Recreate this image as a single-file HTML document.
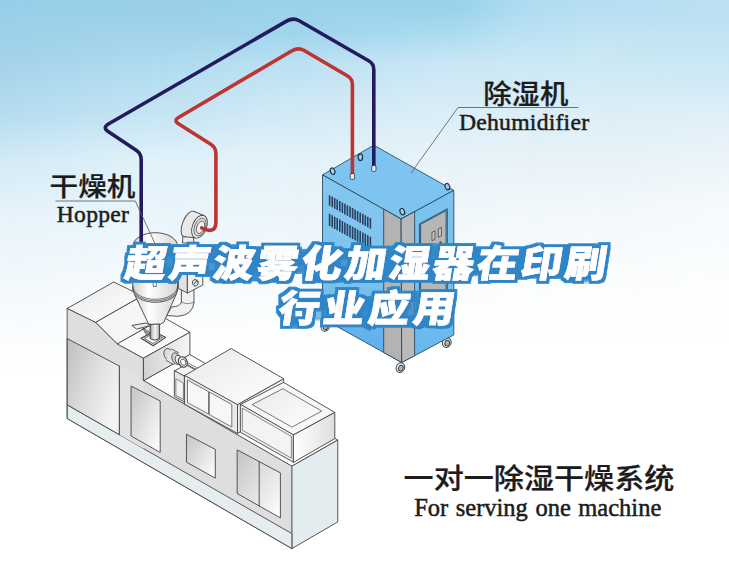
<!DOCTYPE html>
<html lang="zh">
<head>
<meta charset="utf-8">
<title>超声波雾化加湿器在印刷行业应用</title>
<style>
html,body{margin:0;padding:0;background:#fff;}
body{width:729px;height:561px;overflow:hidden;position:relative;font-family:"Liberation Sans","Noto Sans CJK SC",sans-serif;}
svg{position:absolute;left:0;top:0;display:block;}
.cn{font-family:"Liberation Sans","Noto Sans CJK SC",sans-serif;font-weight:500;fill:#1c1c1c;stroke:#1c1c1c;stroke-width:0.25px;}
.en{font-family:"Liberation Serif","Noto Serif CJK SC",serif;fill:#1c1c1c;stroke:#1c1c1c;stroke-width:0.5px;}
.ttl{font-family:"Liberation Sans","Noto Sans CJK SC",sans-serif;font-weight:900;fill:#fff;stroke:#fff;stroke-width:0.6px;stroke-linejoin:miter;}
.ln{stroke:#555;stroke-width:0.8;fill:none;stroke-linejoin:round;}
</style>
</head>
<body>
<svg width="729" height="561" viewBox="0 0 729 561">
<defs>
<linearGradient id="dl" x1="0" y1="0" x2="0" y2="1">
<stop offset="0" stop-color="#84c7f0"/>
<stop offset="0.55" stop-color="#7dc2ef"/>
<stop offset="0.8" stop-color="#66b4ed"/>
<stop offset="1" stop-color="#5cadec"/>
</linearGradient>
<linearGradient id="dr" x1="0" y1="0" x2="0" y2="1">
<stop offset="0" stop-color="#7bc4f0"/>
<stop offset="0.6" stop-color="#76c0ef"/>
<stop offset="1" stop-color="#66b5ed"/>
</linearGradient>
<linearGradient id="pg" x1="0" y1="0" x2="1" y2="1">
<stop offset="0" stop-color="#c4c4c4"/>
<stop offset="0.55" stop-color="#e4e4e4"/>
<stop offset="1" stop-color="#ffffff"/>
</linearGradient>
<linearGradient id="pgd" x1="0" y1="0" x2="1" y2="0.6">
<stop offset="0" stop-color="#bebebe"/>
<stop offset="0.5" stop-color="#dcdcdc"/>
<stop offset="1" stop-color="#f4f4f4"/>
</linearGradient>
<linearGradient id="topg" x1="0" y1="0" x2="1" y2="1">
<stop offset="0" stop-color="#e9e9e9"/>
<stop offset="1" stop-color="#ffffff"/>
</linearGradient>
<linearGradient id="cyl" x1="0" y1="0" x2="1" y2="0">
<stop offset="0" stop-color="#cfcfcf"/>
<stop offset="0.35" stop-color="#ffffff"/>
<stop offset="1" stop-color="#d4d4d4"/>
</linearGradient>
<linearGradient id="neck" x1="0" y1="0" x2="1" y2="0">
<stop offset="0" stop-color="#8c8c8c"/>
<stop offset="0.3" stop-color="#d8d8d8"/>
<stop offset="0.6" stop-color="#f4f4f4"/>
<stop offset="1" stop-color="#9a9a9a"/>
</linearGradient>
<linearGradient id="blockr" x1="0" y1="0" x2="1" y2="0">
<stop offset="0" stop-color="#d2d2d2"/>
<stop offset="1" stop-color="#f6f6f6"/>
</linearGradient>
<linearGradient id="rboxr" x1="0" y1="0" x2="1" y2="0">
<stop offset="0" stop-color="#ffffff"/>
<stop offset="1" stop-color="#dedede"/>
</linearGradient>
<filter id="ol" filterUnits="userSpaceOnUse" x="100" y="230" width="530" height="110">
<feMorphology in="SourceAlpha" operator="dilate" radius="5" result="d0"/><feMorphology in="d0" operator="erode" radius="2" result="d"/>
<feFlood flood-color="#2e86c8"/><feComposite in2="d" operator="in" result="o"/>
<feMerge><feMergeNode in="o"/><feMergeNode in="SourceGraphic"/></feMerge>
</filter>
<linearGradient id="c0" x1="0" y1="0" x2="0" y2="1"><stop offset="0.0000" stop-color="#97cee9"/><stop offset="0.0267" stop-color="#9ad0ea"/><stop offset="0.1016" stop-color="#a3d2e9"/><stop offset="0.2050" stop-color="#b5ddf1"/><stop offset="0.2852" stop-color="#d3eaf6"/><stop offset="0.3832" stop-color="#e7f4fb"/><stop offset="0.5348" stop-color="#f6fafc"/><stop offset="0.6595" stop-color="#ffffff"/><stop offset="1.0000" stop-color="#ffffff"/></linearGradient>
<linearGradient id="c1" x1="0" y1="0" x2="0" y2="1"><stop offset="0.0000" stop-color="#99cee8"/><stop offset="0.0214" stop-color="#9bcfe8"/><stop offset="0.1194" stop-color="#afdcf0"/><stop offset="0.1961" stop-color="#c4e4f3"/><stop offset="0.2799" stop-color="#dff1f9"/><stop offset="0.3832" stop-color="#e9f5fb"/><stop offset="0.5348" stop-color="#f8fbfd"/><stop offset="0.6417" stop-color="#ffffff"/><stop offset="1.0000" stop-color="#ffffff"/></linearGradient>
<linearGradient id="m1" gradientUnits="userSpaceOnUse" x1="0" y1="0" x2="160" y2="0"><stop offset="0" stop-color="#000"/><stop offset="1" stop-color="#fff"/></linearGradient>
<mask id="k1" maskUnits="userSpaceOnUse" x="0" y="0" width="729" height="561"><rect width="729" height="561" fill="url(#m1)"/></mask>
<linearGradient id="c2" x1="0" y1="0" x2="0" y2="1"><stop offset="0.0000" stop-color="#9bd1eb"/><stop offset="0.0606" stop-color="#a0d5ee"/><stop offset="0.1105" stop-color="#bae0f2"/><stop offset="0.1818" stop-color="#cee8f5"/><stop offset="0.2799" stop-color="#e3f2f9"/><stop offset="0.3779" stop-color="#ebf5fa"/><stop offset="0.5348" stop-color="#fafcfd"/><stop offset="0.6239" stop-color="#ffffff"/><stop offset="1.0000" stop-color="#ffffff"/></linearGradient>
<linearGradient id="m2" gradientUnits="userSpaceOnUse" x1="160" y1="0" x2="290" y2="0"><stop offset="0" stop-color="#000"/><stop offset="1" stop-color="#fff"/></linearGradient>
<mask id="k2" maskUnits="userSpaceOnUse" x="0" y="0" width="729" height="561"><rect width="729" height="561" fill="url(#m2)"/></mask>
<linearGradient id="c3" x1="0" y1="0" x2="0" y2="1"><stop offset="0.0000" stop-color="#98d2eb"/><stop offset="0.0178" stop-color="#9ad3ec"/><stop offset="0.0570" stop-color="#aadbef"/><stop offset="0.1105" stop-color="#c8e6f5"/><stop offset="0.1907" stop-color="#d9edf7"/><stop offset="0.2852" stop-color="#e7f3f9"/><stop offset="0.3779" stop-color="#f0f7fb"/><stop offset="0.5348" stop-color="#fcfdfe"/><stop offset="0.6061" stop-color="#ffffff"/><stop offset="1.0000" stop-color="#ffffff"/></linearGradient>
<linearGradient id="m3" gradientUnits="userSpaceOnUse" x1="290" y1="0" x2="450" y2="0"><stop offset="0" stop-color="#000"/><stop offset="1" stop-color="#fff"/></linearGradient>
<mask id="k3" maskUnits="userSpaceOnUse" x="0" y="0" width="729" height="561"><rect width="729" height="561" fill="url(#m3)"/></mask>
<linearGradient id="c4" x1="0" y1="0" x2="0" y2="1"><stop offset="0.0000" stop-color="#aedcf1"/><stop offset="0.0214" stop-color="#b0ddf2"/><stop offset="0.1070" stop-color="#cae7f5"/><stop offset="0.1961" stop-color="#dbeef7"/><stop offset="0.2941" stop-color="#e9f3f8"/><stop offset="0.3779" stop-color="#f2f8fb"/><stop offset="0.5348" stop-color="#fdfefe"/><stop offset="0.6061" stop-color="#ffffff"/><stop offset="1.0000" stop-color="#ffffff"/></linearGradient>
<linearGradient id="m4" gradientUnits="userSpaceOnUse" x1="450" y1="0" x2="525" y2="0"><stop offset="0" stop-color="#000"/><stop offset="1" stop-color="#fff"/></linearGradient>
<mask id="k4" maskUnits="userSpaceOnUse" x="0" y="0" width="729" height="561"><rect width="729" height="561" fill="url(#m4)"/></mask>
<linearGradient id="c5" x1="0" y1="0" x2="0" y2="1"><stop offset="0.0000" stop-color="#b6def2"/><stop offset="0.0178" stop-color="#b8dff2"/><stop offset="0.1016" stop-color="#cbe8f4"/><stop offset="0.1961" stop-color="#dceef7"/><stop offset="0.2977" stop-color="#eaf3f8"/><stop offset="0.3779" stop-color="#f3f8fb"/><stop offset="0.5348" stop-color="#fdfefe"/><stop offset="0.6061" stop-color="#ffffff"/><stop offset="1.0000" stop-color="#ffffff"/></linearGradient>
<linearGradient id="m5" gradientUnits="userSpaceOnUse" x1="525" y1="0" x2="600" y2="0"><stop offset="0" stop-color="#000"/><stop offset="1" stop-color="#fff"/></linearGradient>
<mask id="k5" maskUnits="userSpaceOnUse" x="0" y="0" width="729" height="561"><rect width="729" height="561" fill="url(#m5)"/></mask>
<linearGradient id="c6" x1="0" y1="0" x2="0" y2="1"><stop offset="0.0000" stop-color="#bce0f3"/><stop offset="0.0267" stop-color="#bde0f3"/><stop offset="0.1105" stop-color="#c8e7f4"/><stop offset="0.2050" stop-color="#ddeff8"/><stop offset="0.2852" stop-color="#ecf4f9"/><stop offset="0.3690" stop-color="#f5fafc"/><stop offset="0.5348" stop-color="#fefeff"/><stop offset="0.6061" stop-color="#ffffff"/><stop offset="1.0000" stop-color="#ffffff"/></linearGradient>
<linearGradient id="m6" gradientUnits="userSpaceOnUse" x1="600" y1="0" x2="729" y2="0"><stop offset="0" stop-color="#000"/><stop offset="1" stop-color="#fff"/></linearGradient>
<mask id="k6" maskUnits="userSpaceOnUse" x="0" y="0" width="729" height="561"><rect width="729" height="561" fill="url(#m6)"/></mask>
</defs>
<g id="bg">
<rect width="729" height="561" fill="url(#c0)"/>
<rect width="729" height="561" fill="url(#c1)" mask="url(#k1)"/>
<rect width="729" height="561" fill="url(#c2)" mask="url(#k2)"/>
<rect width="729" height="561" fill="url(#c3)" mask="url(#k3)"/>
<rect width="729" height="561" fill="url(#c4)" mask="url(#k4)"/>
<rect width="729" height="561" fill="url(#c5)" mask="url(#k5)"/>
<rect width="729" height="561" fill="url(#c6)" mask="url(#k6)"/>
</g>
<g id="machine" stroke="#444" stroke-width="0.9" stroke-linejoin="round" stroke-linecap="round">
<polygon points="143.7,380.6 189.6,354.4 337.8,440 291.9,466.2" fill="#fbfbfb"/>
<polygon points="291.9,466.2 337.8,440 337.8,521.9 291.9,548.6" fill="#e3ecee"/>
<path d="M67.500 308.300 L91 319.700 Q96.500 322.300 100.500 326.500 L112.500 339 Q116 342.500 120.500 345 L143.700 358 V380.600 L291.900 466.200 V548.600 L67.500 418.700 Z" fill="#dedede"/>
<polygon points="67.5,405 291.9,533.6 291.9,548.6 67.5,418.7" fill="#e5edef"/>
<polygon points="67.5,338.7 119.4,366.1 119.4,434.7 67.5,405" fill="url(#pgd)"/>
<polygon points="119.4,366.1 143.7,380.6 143.7,448.7 119.4,434.7" fill="#e2e2e2" stroke="none"/>
<path d="M119.400 366.100 V434.700" fill="none"/>
<polygon points="131.4,386.2 160.2,401 160.2,452.4 131.4,436.2" fill="url(#pg)"/>
<polygon points="186.8,434.4 215.3,449.4 215.3,478.1 186.8,462.4" fill="url(#pg)"/>
<polygon points="237.5,450 280.4,472.9 280.4,517.9 237.5,493.7" fill="url(#pg)"/>
<path d="M259.200 461.600 V506" fill="none"/>
<polygon points="67.5,308.3 113.7,282 142.2,295.9 96,322.2" fill="url(#topg)"/>
<polygon points="96,322.2 142.2,295.9 163.8,317.5 117.6,343.8" fill="#f6f6f6"/>
<polygon points="117.6,343.8 163.8,317.5 189.9,332.3 143.7,358" fill="#fafafa"/>
<polygon points="143.7,358 189.9,332.3 189.9,354.4 143.7,380.6" fill="url(#blockr)"/>
<polygon points="174.7,370.8 186.5,364.2 196.5,369.8 184.9,376.4" fill="#f4f4f4"/>
<polygon points="174.7,370.8 184.9,376.4 184.9,402.4 174.7,396.6" fill="#e6e6e6"/>
<polygon points="176.2,379 183.4,383 183.4,399.5 176.2,395.4" fill="#f3f3f3" stroke-width="0.6"/>
<g stroke-width="0.8">
<path d="M184.500 361 L196.500 367.600 M183.500 363.500 L195 369.800" stroke-width="0.7" fill="none"/>
<ellipse cx="168.800" cy="354.700" rx="4.500" ry="6.500" fill="#dcdcdc" transform="rotate(-25 168.800 354.700)"/>
<path d="M171.500 349 L178.500 352.700 L174 364.500 L166.300 360.600Z" fill="#e6e6e6" stroke="none"/>
<path d="M171.500 349 L178.500 352.700 M166.300 360.600 L174 364.500" fill="none"/>
<ellipse cx="176.200" cy="358.600" rx="4" ry="6.100" fill="#d4d4d4" transform="rotate(-25 176.200 358.600)"/>
<ellipse cx="178.800" cy="360" rx="3.300" ry="5" fill="#e9e9e9" transform="rotate(-25 178.800 360)"/>
<ellipse cx="182.900" cy="362" rx="4.300" ry="5.400" fill="#f2f2f2" stroke-width="1.100" transform="rotate(-25 182.900 362)"/>
<ellipse cx="183.300" cy="362.200" rx="2.500" ry="3.300" fill="#fff" transform="rotate(-25 183.300 362.200)"/>
</g>
<polygon points="237.5,404.6 283.6,378.7 283.6,408 237.5,433.4" fill="#ededed"/>
<polygon points="184.7,375.5 231.1,348.5 283.6,378.7 237.5,404.6" fill="url(#topg)"/>
<polygon points="184.7,375.5 237.5,404.6 237.5,433.4 184.7,404.3" fill="#e9e9e9"/>
<polygon points="187.8,380.2 208.6,391.7 208.6,414.2 187.8,402.7" fill="#f7f7f7" stroke-width="0.7"/>
<polygon points="209.6,392.2 231.8,404.5 231.8,427 209.6,414.7" fill="#f7f7f7" stroke-width="0.7"/>
<polygon points="240.7,404.4 283.6,382.4 334.8,412.4 293.6,434.9" fill="#f6f6f6"/>
<polygon points="252.4,404.4 282.9,388.7 321.8,411.1 292.3,426.9" fill="url(#topg)" stroke-width="0.7"/>
<polygon points="240.7,404.4 293.6,434.9 293.6,462.3 240.7,432.4" fill="#ececec"/>
<polygon points="242.7,408.4 291.4,436.5 291.4,458.2 242.7,430.4" fill="#f3f3f3" stroke-width="0.6"/>
<polygon points="293.6,434.9 334.8,412.4 334.8,438.6 293.6,462.3" fill="url(#rboxr)"/>
</g>
<g id="hopper" stroke="#444" stroke-width="0.9" stroke-linejoin="round" stroke-linecap="round">
<path d="M181.400 288 V302 Q180.500 306.500 171.800 306.900 L166.400 315.500 L178 316.300 Q193 315 194 302 V288 Z" fill="#f0f0f0"/>
<path d="M181.400 302 Q187.500 305.500 194 302" fill="none" stroke-width="0.6"/>
<path d="M134.300 294 L148.300 323.400 Q156 327.800 163.800 322.400 L176.300 294 Z" fill="url(#cyl)"/>
<path d="M132.800 246 A22.400 13.300 0 0 1 177.600 246 V289.500 A22.400 12.800 0 0 1 132.800 289.500 Z" fill="url(#cyl)"/>
<path d="M132.800 286.500 A22.400 12.800 0 0 0 177.600 286.500" fill="none" stroke-width="0.7"/>
<path d="M132.800 288 A22.400 12.800 0 0 0 177.600 288" fill="none" stroke-width="0.7"/>
<rect x="153.600" y="281" width="2.800" height="5.500" fill="#fff" stroke-width="0.7"/>
<polygon points="141.1,338.2 153.8,331.4 165.8,337.4 153.1,345.7" fill="#e4e4e4" stroke-width="1.1"/>
<polygon points="144.6,338.2 153.7,333.4 162.4,337.6 153.3,343.4" fill="#f6f6f6" stroke-width="0.7"/>
<path d="M150.100 324.800 V338.600 Q154.800 341.600 159.600 338.600 V324.300 Z" fill="url(#neck)" stroke-width="1"/>
<path d="M132.200 325.400 L145.900 323 L150.700 325.400 L137 329 Z" fill="#ececec" stroke-width="0.9"/>
<path d="M142.500 328.200 L147.200 336 L149.800 332.500 Z" fill="#9a9a9a" stroke-width="0.7"/>
<polygon points="178.7,264 187.6,268.3 187.6,293 178.7,288.7" fill="#e2e2e2"/>
<polygon points="187.6,268.3 202.8,260.3 202.8,285 187.6,293" fill="#f1f1f1"/>
<ellipse cx="195.300" cy="282.800" rx="2.900" ry="3.300" fill="#e4e4e4" stroke-width="0.9" transform="rotate(-20 195.300 282.800)"/>
<path d="M194.300 283.800 L197 280.300" fill="none" stroke-width="0.9"/>
<path d="M183 235 L182.500 243 H194 L193.500 237 Z" fill="#ededed"/>
<ellipse cx="188.800" cy="224" rx="6.200" ry="13.600" fill="#e9e9e9" transform="rotate(22 188.800 224)"/>
<path d="M193.900 211.400 L204.300 215.600 L195 237.800 L183.700 236.600 Z" fill="#e9e9e9" stroke="none"/>
<path d="M193.900 211.400 L204.300 215.600 M183.700 236.600 L195 237.800" fill="none"/>
<ellipse cx="199.500" cy="226.700" rx="7" ry="12" fill="#f3f3f3" transform="rotate(22 199.500 226.700)"/>
<ellipse cx="200" cy="227" rx="5.400" ry="9.400" fill="#dedede" stroke-width="0.7" transform="rotate(22 200 227)"/>
<ellipse cx="200.500" cy="227.300" rx="3.700" ry="6.500" fill="#f1f1f1" stroke-width="0.7" transform="rotate(22 200.500 227.300)"/>
</g>
<g id="dehum" stroke="#2b4a63" stroke-width="0.9" stroke-linejoin="round">
<g stroke="#3c3c3c" stroke-width="0.9"><ellipse cx="325.3" cy="326.3" rx="4.2" ry="5" fill="#eee" transform="rotate(25 325.3 326.3)"/><ellipse cx="325.9" cy="326.6" rx="2.3" ry="2.9" fill="#b5b5b5" transform="rotate(25 325.3 326.3)"/></g>
<g stroke="#3c3c3c" stroke-width="0.9"><ellipse cx="446.8" cy="342.6" rx="4.2" ry="5" fill="#eee" transform="rotate(25 446.8 342.6)"/><ellipse cx="447.4" cy="342.9" rx="2.3" ry="2.9" fill="#b5b5b5" transform="rotate(25 446.8 342.6)"/></g>
<polygon points="322.5,174.9 373.8,145.2 453.8,190.4 401.1,219" fill="#7dc4f0"/>
<polygon points="322.5,174.9 401.1,219 401.7,362.5 322.5,318.4" fill="url(#dl)"/>
<polygon points="401.1,219 453.8,190.4 453.8,334.9 401.7,362.5" fill="url(#dr)"/>
<polygon points="383.7,209.2 401.1,219 401.7,362.5 383.7,352.5" fill="#b3b3b3"/>
<polygon points="401.1,219 414.6,211.7 414.6,355.7 401.7,362.5" fill="#b9b9b9"/>
<polygon points="419.4,223.9 447.3,208.7 447.3,314.3 419.4,329.1" fill="#7bc3ef"/>
<polygon points="420.6,224.4 446.1,210.6 446.1,313.1 420.6,327.9" fill="#b6b6b6"/>
<polygon points="432,232.400 435,230.800 435,239.200 432,240.800" fill="#c9c9c9" stroke="#333" stroke-width="0.7"/>
<polygon points="438.300,229 441.400,227.300 441.400,235.700 438.300,237.400" fill="#c9c9c9" stroke="#333" stroke-width="0.7"/>
<circle cx="440.500" cy="242.300" r="1.1" fill="#444" stroke="none"/>
<path d="M329.6 195.2v10.6M332.2 196.6v10.6M334.7 198.1v10.6M337.2 199.5v10.6M339.8 200.9v10.6M342.4 202.4v10.6M344.9 203.8v10.6M347.4 205.2v10.6M350.0 206.6v10.6M352.6 208.1v10.6M355.1 209.5v10.6M357.6 210.9v10.6M360.2 212.4v10.6M362.8 213.8v10.6M365.3 215.2v10.6M367.8 216.7v10.6M370.4 218.1v10.6" stroke="#27405f" stroke-width="1.6" fill="none"/>
<path d="M329.6 213.8v12.2M332.2 215.2v12.2M334.7 216.7v12.2M337.2 218.1v12.2M339.8 219.5v12.2M342.4 221.0v12.2M344.9 222.4v12.2M347.4 223.8v12.2M350.0 225.2v12.2M352.6 226.7v12.2M355.1 228.1v12.2M357.6 229.5v12.2M360.2 231.0v12.2M362.8 232.4v12.2M365.3 233.8v12.2M367.8 235.3v12.2M370.4 236.7v12.2" stroke="#27405f" stroke-width="1.6" fill="none"/>
<ellipse cx="332.6" cy="171.2" rx="2.2" ry="3.3" fill="#9fd2f3" stroke="#26364a" stroke-width="1.25" transform="rotate(-20 332.6 171.2)"/>
<ellipse cx="360.4" cy="157.2" rx="2.2" ry="3.3" fill="#9fd2f3" stroke="#26364a" stroke-width="1.25" transform="rotate(0 360.4 157.2)"/>
<ellipse cx="402.3" cy="211.6" rx="2.2" ry="3.3" fill="#9fd2f3" stroke="#26364a" stroke-width="1.25" transform="rotate(-20 402.3 211.6)"/>
<ellipse cx="447.4" cy="186.6" rx="2.2" ry="3.3" fill="#9fd2f3" stroke="#26364a" stroke-width="1.25" transform="rotate(-20 447.4 186.6)"/>
<path d="M364.600 324.200v4.200M366.300 325.100v4.200M368 326v4.200M369.700 326.900v4.200" stroke="#2c4a6e" stroke-width="0.9" fill="none"/>
<g stroke="#3c3c3c" stroke-width="0.9"><ellipse cx="400.4" cy="367.6" rx="4.2" ry="5" fill="#eee" transform="rotate(25 400.4 367.6)"/><ellipse cx="401" cy="367.9" rx="2.3" ry="2.9" fill="#b5b5b5" transform="rotate(25 400.4 367.6)"/></g>
</g>
<g id="pipes" fill="none" stroke-width="3.6" stroke-linejoin="round" stroke-linecap="round">
<path d="M141.200 245 V159.500 Q141.200 153.500 136.200 150.200 L108.100 131.400 Q102.300 127.500 108.400 124 L287 20.900 Q293.100 17.300 299.200 20.800 L368.600 60.800 Q373.800 63.700 373.800 69.700 V166" stroke="#231b5e"/>
<path d="M201.800 227.900 Q205 230.400 209.500 230.400 Q215.900 230.400 215.900 222.500 V153.500 Q215.900 147.500 210.800 144.300 L178.800 124.100 Q173.200 120.600 178.900 117.200 L292 50.700 Q298.100 47.100 304.200 50.500 L347.200 75.800 Q352.400 78.700 352.400 84.700 V174" stroke="#bf3432"/>
<rect x="350.200" y="173.500" width="4.400" height="6" rx="1.500" fill="#dfeefa" stroke="#333" stroke-width="0.8"/>
<rect x="371.600" y="165.500" width="4.400" height="6" rx="1.500" fill="#dfeefa" stroke="#333" stroke-width="0.8"/>
</g>
<g id="labels">
<text class="cn" transform="translate(49.6 195.9) scale(1 0.93)" font-size="28.6" letter-spacing="0">干燥机</text>
<text class="en" x="56.800" y="222.400" font-size="23.600" letter-spacing="0.25">Hopper</text>
<path class="ln" d="M55.500 201 H135.300 L155.200 244"/>
<text class="cn" transform="translate(483.2 103.8) scale(1 0.95)" font-size="28.4" letter-spacing="0">除湿机</text>
<text class="en" x="459" y="129.500" font-size="23.700" letter-spacing="0.22">Dehumidifier</text>
<path class="ln" d="M578.500 107.500 H458 L411 173"/>
<text class="cn" transform="translate(403.6 489.4) scale(1 0.95)" font-size="30.1" letter-spacing="0">一对一除湿干燥系统</text>
<text class="en" x="414.200" y="516.200" font-size="24.500" word-spacing="1.400">For serving one machine</text>
</g>
<g id="title">
<g filter="url(#ol)"><text class="ttl" transform="translate(365.300 277.100) skewX(-9) scale(1.1 1)" text-anchor="middle" font-size="37.500" letter-spacing="2.500">超声波雾化加湿器在印刷</text></g>
<g filter="url(#ol)"><text class="ttl" transform="translate(366.800 321.800) skewX(-9) scale(1.1 1)" text-anchor="middle" font-size="37.500" letter-spacing="3.500">行业应用</text></g>
</g>
</svg>
</body>
</html>
